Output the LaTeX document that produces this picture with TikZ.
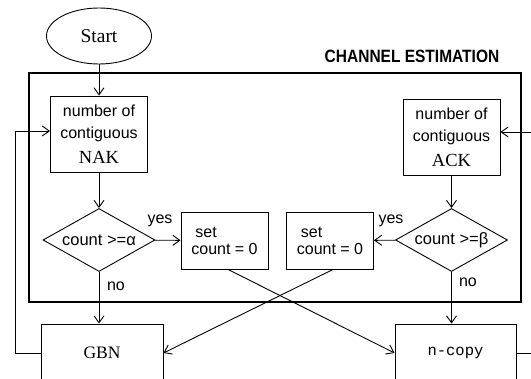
\documentclass[tikz,border=0pt]{standalone}
\usepackage{fontspec}
\setmainfont{Liberation Serif}
\setsansfont{Liberation Sans}
\newfontfamily\monof{Liberation Mono}
\usetikzlibrary{shapes.geometric,arrows.meta}
\begin{document}
\begin{tikzpicture}[x=1pt,y=-1pt,
  ln/.style={line width=0.9pt},
  box/.style={draw, line width=0.9pt, inner sep=0pt},
  arr/.style={-{Straight Barb[length=7pt,width=10pt]}, line width=0.9pt},
  sans/.style={font=\fontsize{16}{22}\sffamily},
  serifbig/.style={font=\fontsize{19.5}{20}\rmfamily},
  dec/.style={diamond, draw, line width=0.9pt, inner sep=0pt, aspect=1.78,
              minimum width=112pt, minimum height=63pt, font=\fontsize{16.5}{18}\sffamily},
  lbl/.style={font=\fontsize{16}{18}\sffamily, inner sep=0pt}]
\useasboundingbox (0,0) rectangle (531,379);
\clip (0,0) rectangle (531,379);

% frame
\node[draw, line width=2.6pt, minimum width=492pt, minimum height=229pt, inner sep=0pt] (frame) at (275,187.5) {};
\node[font=\fontsize{15.5}{18}\sffamily\bfseries, inner sep=0pt, yscale=1.15] (ce) at (412,56) {CHANNEL ESTIMATION};

% nodes
\node[draw, ellipse, line width=0.9pt, minimum width=105pt, minimum height=56pt, inner sep=0pt, serifbig] (start) at (99,36) {Start};
\node[box, minimum width=97pt, minimum height=76pt, align=center, sans] (nak) at (99,134)
  {number of\\contiguous\\[3pt]{\fontsize{18.5}{20}\rmfamily NAK}};
\node[box, minimum width=97pt, minimum height=76pt, align=center, sans] (ack) at (451.5,137)
  {number of\\contiguous\\[3pt]{\fontsize{18.5}{20}\rmfamily ACK}};
\node[dec] (da) at (99,240) {count >=α};
\node[dec] (db) at (451.5,240) {count >=β};
\node[box, minimum width=87pt, minimum height=57pt, align=left, font=\fontsize{16}{17}\sffamily] (s1) at (224.5,240.5) {\hspace{4pt}set\\count = 0};
\node[box, minimum width=87pt, minimum height=57pt, align=left, font=\fontsize{16}{17}\sffamily] (s2) at (330,240.5) {\hspace{4pt}set\\count = 0};
\node[box, minimum width=122pt, minimum height=58pt, font=\fontsize{17.5}{20}\rmfamily] (gbn) at (102,353) {GBN};
\node[box, minimum width=121pt, minimum height=58pt, font=\fontsize{15.5}{18}\monof] (nc) at (455.5,353) {n-copy};

% labels
\node[lbl] (yes1) at (160,221) {yes};
\node[lbl] (no1) at (116,286) {no};
\node[lbl] (yes2) at (391,221) {yes};
\node[lbl] (no2) at (468,282) {no};

% connectors
\draw[arr] (start) -- (nak);
\draw[arr] (nak) -- (da);
\draw[arr] (da) -- (s1);
\draw[arr] (da.south) -- (da.south |- gbn.north);
\draw[arr] (ack) -- (db);
\draw[arr] (db) -- (s2);
\draw[arr] (db.south) -- (db.south |- nc.north);
\draw[arr] ([xshift=3.5pt]s1.south) -- (nc.west);
\draw[arr] ([xshift=3pt]s2.south) -- (gbn.east);

\coordinate (fbL) at (15,131);
\draw[arr] (gbn.west) -| (fbL) -- (fbL -| nak.west);
\coordinate (fbR1) at (531,353);
\coordinate (fbR2) at (531,132);
\draw[ln] (nc.east) -- (fbR1);
\draw[arr] (fbR2) -- (fbR2 -| ack.east);
\end{tikzpicture}
\end{document}
